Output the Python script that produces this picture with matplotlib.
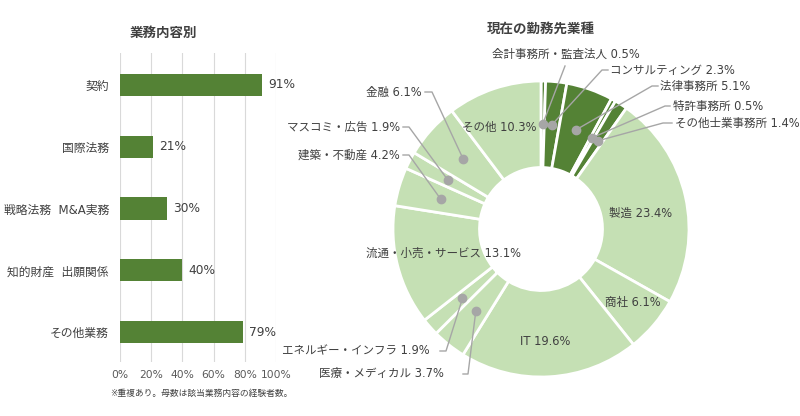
import numpy as np
import matplotlib
matplotlib.use("Agg")
import matplotlib.pyplot as plt

# Latin glyphs from DejaVu (Verdana-like digits), Japanese from Noto CJK
plt.rcParams["font.family"] = ["DejaVu Sans", "Noto Sans CJK JP"]

# left: business content
task_labels = ["契約", "国際法務", "戦略法務  M&A実務", "知的財産  出願関係", "その他業務"]
task_values = [91, 21, 30, 40, 79]

# right: current employer industry (clockwise from top)
industry_labels = [
    "会計事務所・監査法人", "コンサルティング", "法律事務所", "特許事務所", "その他士業事務所",
    "製造", "商社", "IT", "医療・メディカル", "エネルギー・インフラ",
    "流通・小売・サービス", "建築・不動産", "マスコミ・広告", "金融", "その他",
]
industry_values = [0.5, 2.3, 5.1, 0.5, 1.4, 23.4, 6.1, 19.6, 3.7, 1.9, 13.1, 4.2, 1.9, 6.1, 10.3]
professional = [True] * 5 + [False] * 10

DARK = "#548235"
LIGHT = "#C5E0B4"
TEXT = "#404040"
GRAY = "#A6A6A6"

W, H = 800, 416
fig = plt.figure(figsize=(8, 4.16), dpi=100)


def fy(y):
    # pixel y (top-down) -> overlay data y
    return H - y


# ---- bar chart ----
unit = (332 - 85) / 4
ax = fig.add_axes([120 / W, (H - 362) / H, 156 / W, 309 / H])
pos = np.arange(len(task_labels))
ax.barh(pos, task_values, height=0.36, color=DARK, zorder=3)
ax.set_xlim(0, 100)
ax.set_ylim(4 + (362 - 332) / unit, -(85 - 53) / unit)
ax.set_xticks(np.arange(0, 101, 20))
ax.set_xticklabels([f"{t}%" for t in range(0, 101, 20)])
ax.set_yticks(pos)
ax.set_yticklabels(task_labels)
ax.tick_params(axis="x", length=0, pad=6, labelsize=7.7, labelcolor="#595959")
ax.tick_params(axis="y", length=0, pad=8, labelsize=8.5, labelcolor=TEXT)
ax.grid(axis="x", color="#D9D9D9", linewidth=0.8, zorder=0)
for s in ax.spines.values():
    s.set_visible(False)
for p, v in zip(pos, task_values):
    ax.annotate(f"{v}%", (v, p), xytext=(4.5, 0), textcoords="offset points",
                va="center", ha="left", fontsize=8.8, color=TEXT)

# ---- overlay in pixel coordinates ----
ov = fig.add_axes([0, 0, 1, 1], facecolor="none")
cx, cy, R, hole = 541, 229, 148, 61.5
colors = [DARK if p else LIGHT for p in professional]
ov.pie(industry_values, colors=colors, startangle=90, counterclock=False,
       radius=R, center=(cx, fy(cy)),
       wedgeprops=dict(width=R - hole, edgecolor="white", linewidth=2))
ov.set_xlim(0, W)
ov.set_ylim(0, H)
ov.set_aspect("auto")
ov.axis("off")

ov.text(163, fy(33), "業務内容別", ha="center", va="center", fontsize=9.7,
        fontweight="bold", color=TEXT)
ov.text(541, fy(29), "現在の勤務先業種", ha="center", va="center", fontsize=9.7,
        fontweight="bold", color=TEXT)
ov.text(201, fy(393), "※重複あり。母数は該当業務内容の経験者数。", ha="center",
        va="center", fontsize=6.3, color=TEXT)

# mid angles of slices (clockwise from top)
total = sum(industry_values)
cum = np.cumsum([0] + industry_values[:-1])
mid = [(c + v / 2) / total * 2 * np.pi for c, v in zip(cum, industry_values)]
r_mid = (R + hole) / 2


def mid_point(i):
    return cx + r_mid * np.sin(mid[i]), cy - r_mid * np.cos(mid[i])


# inside labels: index -> pixel nudge
inside = {14: (-8, -2), 5: (-3, 7), 6: (12, 6), 7: (-2, 8), 10: (4, -2)}
for i, (dx, dy) in inside.items():
    x, y = mid_point(i)
    ov.text(x + dx, fy(y + dy), f"{industry_labels[i]} {industry_values[i]}%",
            ha="center", va="center", fontsize=8.3, color=TEXT)

# outside labels: index -> (text x, text y, ha, line y, near x, elbow x)
outside = {
    0: (566, 54, "center", 66, 565, 565),
    1: (610, 70, "left", 70, 608, 602),
    2: (660, 86, "left", 86, 658, 652),
    3: (673, 106, "left", 106, 670, 665),
    4: (675, 123, "left", 123, 672, 663),
    13: (422, 92, "right", 92, 425, 432),
    12: (400, 127, "right", 127, 403, 409),
    11: (400, 155, "right", 155, 403, 409),
    9: (430, 351, "right", 351, 440, 446),
    8: (444, 374, "right", 374, 463, 468),
}
for i, (tx, ty, ha, ly, nx, ex) in outside.items():
    x, y = mid_point(i)
    ov.plot([x, ex, nx], [fy(y), fy(ly), fy(ly)], color=GRAY, linewidth=1, zorder=4)
    ov.plot([x], [fy(y)], "o", color=GRAY, markersize=6, zorder=5)
    ov.text(tx, fy(ty), f"{industry_labels[i]} {industry_values[i]}%",
            ha=ha, va="center", fontsize=8.3, color=TEXT)

fig.savefig("out.png", dpi=100)
